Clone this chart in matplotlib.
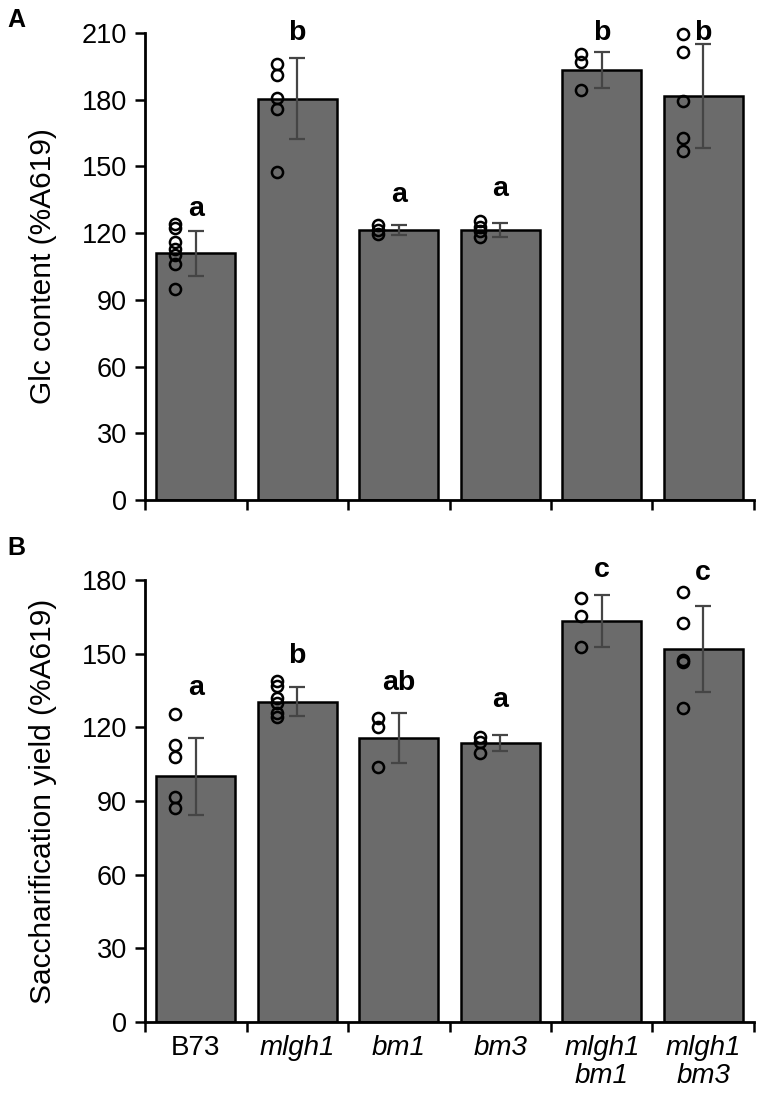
import matplotlib
matplotlib.use("Agg")
import matplotlib.pyplot as plt
import numpy as np

plt.rcParams['font.family'] = ['Liberation Sans', 'DejaVu Sans']

genotypes = ['B73', 'mlgh1', 'bm1', 'bm3', 'mlgh1\nbm1', 'mlgh1\nbm3']
italic = [False, True, True, True, True, True]

# panel A - Glc content
glc_mean = [111, 180.5, 121.5, 121.5, 193.5, 181.5]
glc_sd = [10.2, 18.2, 2.2, 3.2, 8.0, 23.4]
glc_pts = [
    [124, 122.5, 116, 113, 110, 106, 95],
    [196, 191, 181, 176, 147.5],
    [123.5, 121.5, 119.5],
    [125.5, 123, 121, 118.5],
    [200.5, 197, 184.5],
    [209.5, 201.5, 179.5, 163, 157],
]
glc_letters = ['a', 'b', 'a', 'a', 'b', 'b']
glc_letter_y = [131, 210, 137, 140, 210, 210]

# panel B - saccharification yield
sac_mean = [100, 130.5, 115.5, 113.5, 163.3, 152]
sac_sd = [15.6, 6.0, 10.2, 3.2, 10.4, 17.5]
sac_pts = [
    [125.5, 113, 108, 91.5, 87],
    [139, 137, 132, 130, 126, 124],
    [123.8, 120, 104],
    [116, 114, 109.5],
    [172.5, 165.5, 152.5],
    [175, 162.5, 147.5, 146.5, 128],
]
sac_letters = ['a', 'b', 'ab', 'a', 'c', 'c']
sac_letter_y = [136, 149, 138, 131, 184, 183]


def panel(ax, means, sds, pts, letters, letter_y, ymax, ylabel, show_labels):
    x = np.arange(len(means))
    ax.bar(x, means, width=0.78, color='#6b6b6b', edgecolor='black', linewidth=1.8, zorder=1)
    ax.errorbar(x, means, yerr=sds, fmt='none', ecolor='#454545', elinewidth=1.6,
                capsize=5.5, capthick=1.6, zorder=3)
    for i, vals in enumerate(pts):
        ax.plot([i - 0.2] * len(vals), vals, 'o', ms=8, mfc='none', mec='black',
                mew=1.8, zorder=4, clip_on=False)
    for i, (lt, ly) in enumerate(zip(letters, letter_y)):
        ax.text(i, ly, lt, ha='center', va='center', fontsize=20.5, fontweight='bold',
                clip_on=False)
    ax.set_xlim(-0.5, len(means) - 0.5)
    ax.set_ylim(0, ymax)
    ax.set_yticks(np.arange(0, ymax + 1, 30))
    ax.tick_params(axis='y', labelsize=19.5, width=1.8, length=7, direction='out', pad=6)
    ax.set_xticks(x)
    ax.set_xticks(np.arange(-0.5, len(means)), minor=True)
    ax.tick_params(axis='x', which='major', length=0, labelsize=20, pad=9)
    ax.tick_params(axis='x', which='minor', length=7, width=1.8, direction='out')
    if show_labels:
        ax.set_xticklabels(genotypes, linespacing=1.1, va='top')
        for lbl, it in zip(ax.get_xticklabels(), italic):
            if it:
                lbl.set_style('italic')
    else:
        ax.set_xticklabels([])
    for s in ['top', 'right']:
        ax.spines[s].set_visible(False)
    for s in ['left', 'bottom']:
        ax.spines[s].set_linewidth(2)
    ax.set_ylabel(ylabel, fontsize=21.5)
    ax.yaxis.set_label_coords(-0.145, 0.5)


fig = plt.figure(figsize=(7.6, 10.98), dpi=100)
axA = fig.add_axes([0.1908, 0.5446, 0.8013, 0.4253])
axB = fig.add_axes([0.1908, 0.0692, 0.8013, 0.4026])

panel(axA, glc_mean, glc_sd, glc_pts, glc_letters, glc_letter_y, 210,
      'Glc content (%A619)', False)
panel(axB, sac_mean, sac_sd, sac_pts, sac_letters, sac_letter_y, 180,
      'Saccharification yield (%A619)', True)

fig.text(0.01, 0.982, 'A', fontsize=18, fontweight='bold', va='center')
fig.text(0.01, 0.501, 'B', fontsize=18, fontweight='bold', va='center')

fig.savefig('out.png', dpi=100)
